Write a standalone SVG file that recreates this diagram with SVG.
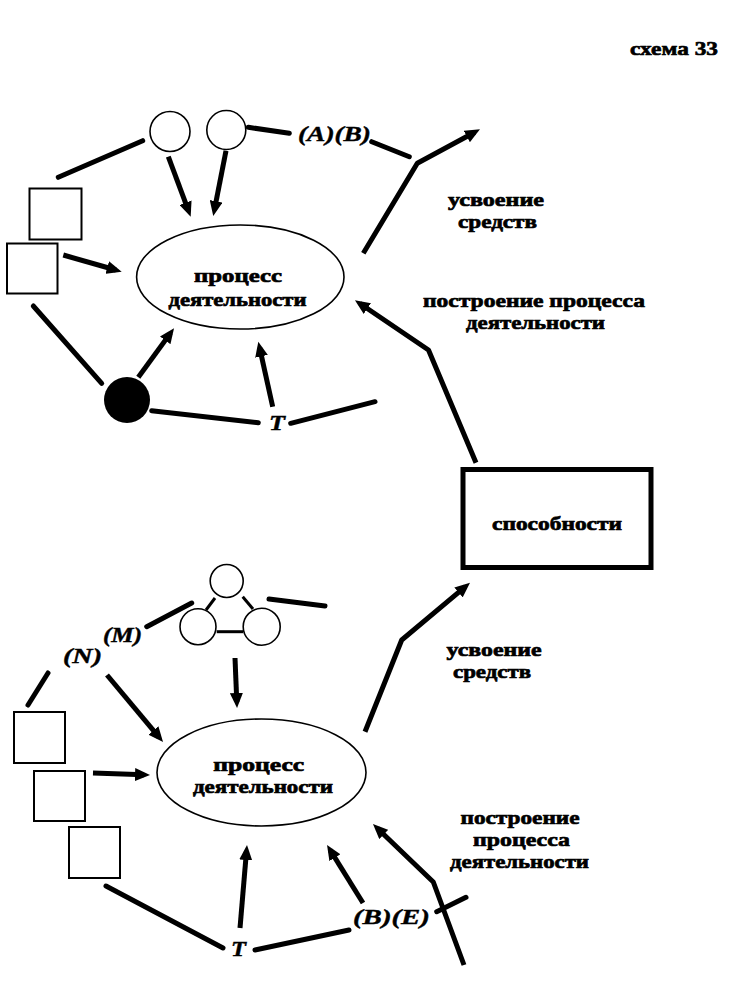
<svg xmlns="http://www.w3.org/2000/svg" width="742" height="1002" viewBox="0 0 742 1002">
<style>
.bg{fill:#fff}
.ln{stroke:#000;stroke-width:5;fill:none;stroke-linecap:round;stroke-linejoin:round}
.ar{stroke:#000;stroke-width:5;fill:none;stroke-linecap:butt;stroke-linejoin:round;marker-end:url(#ah)}
.thin{stroke:#000;stroke-width:3;fill:none}
.sh{fill:#fff;stroke:#000;stroke-width:2}
.el{fill:#fff;stroke:#000;stroke-width:1.6}
.t{font-family:"Liberation Serif","Times New Roman",serif;font-weight:bold;font-size:19.5px;fill:#000;stroke:#000;stroke-width:0.7;text-anchor:middle}
.i{font-family:"Liberation Serif","Times New Roman",serif;font-weight:bold;font-style:italic;font-size:21px;fill:#000;stroke:#000;stroke-width:0.4}
</style>
<defs>
<marker id="ah" markerUnits="userSpaceOnUse" markerWidth="16" markerHeight="13" refX="9" refY="6.5" orient="auto">
<path d="M0,0 L15,6.5 L0,13 z" fill="#000"/>
</marker>
</defs>
<rect class="bg" x="0" y="0" width="742" height="1002"/>
<text class="t" x="674" y="55" textLength="88" lengthAdjust="spacingAndGlyphs">схема 33</text>

<g id="connectors">
<!-- top section -->
<line class="ln" x1="58.3" y1="177.3" x2="142.7" y2="140.7"/>
<line class="ln" x1="248.3" y1="127.3" x2="289.3" y2="133.3"/>
<line class="ln" x1="371.7" y1="141.7" x2="409.3" y2="156.7"/>
<line class="ln" x1="33.3" y1="306" x2="101.7" y2="383.3"/>
<line class="ln" x1="151.7" y1="410.7" x2="258.3" y2="422.7"/>
<line class="ln" x1="290.7" y1="423.3" x2="375" y2="401.7"/>
<line class="ar" x1="168.3" y1="156.7" x2="188.6" y2="211.1"/>
<line class="ar" x1="226" y1="150.7" x2="214.4" y2="210.1"/>
<line class="ar" x1="63.3" y1="255" x2="115.9" y2="270"/>
<line class="ar" x1="138.3" y1="377.3" x2="170.5" y2="333.1"/>
<line class="ar" x1="272.7" y1="406.7" x2="259.6" y2="347.6"/>
<polyline class="ar" points="363.3,253.3 417.3,163.3 474.7,132.2"/>
<polyline class="ar" points="476,462.7 428.5,350 359.9,303.5"/>
<!-- bottom section -->
<line class="ln" x1="191.7" y1="603" x2="146.7" y2="626.7"/>
<line class="ln" x1="269" y1="599" x2="325" y2="606"/>
<line class="ln" x1="48" y1="673" x2="28" y2="705"/>
<line class="ln" x1="106" y1="886" x2="223" y2="948"/>
<line class="ln" x1="255" y1="950" x2="349" y2="930"/>
<line class="ln" x1="436.7" y1="911.7" x2="466" y2="897.3"/>
<line class="ar" x1="107" y1="675" x2="159.2" y2="737.4"/>
<line class="ar" x1="235" y1="658" x2="236.8" y2="702"/>
<line class="ar" x1="93" y1="773" x2="144" y2="774.8"/>
<line class="ar" x1="240" y1="928" x2="246.5" y2="851"/>
<line class="ar" x1="363" y1="903" x2="330.2" y2="850.1"/>
<polyline class="ar" points="464,965 433.3,882 377.3,828.2"/>
<polyline class="ar" points="365,731.7 401.7,640 465.4,586.6"/>
</g>

<!-- top section nodes -->
<g id="circle-top-1"><circle class="el" cx="170" cy="131.5" r="20"/></g>
<g id="circle-top-2"><circle class="el" cx="226.3" cy="130" r="19.5"/></g>
<g id="label-AB"><text class="i" x="298" y="141" textLength="73" lengthAdjust="spacingAndGlyphs">(A)(B)</text></g>
<g id="square-top-1"><rect class="sh" x="29.5" y="188.5" width="52" height="51"/></g>
<g id="square-top-2"><rect class="sh" x="7" y="243.5" width="50.5" height="50"/></g>
<g id="ellipse-top">
<ellipse class="el" cx="240.3" cy="277" rx="103.7" ry="52"/>
<text class="t" x="238" y="282" textLength="88" lengthAdjust="spacingAndGlyphs">процесс</text>
<text class="t" x="237.5" y="306" textLength="138" lengthAdjust="spacingAndGlyphs">деятельности</text>
</g>
<g id="black-circle"><circle cx="127" cy="400" r="23" fill="#000"/></g>
<g id="label-T-top"><text class="i" x="269" y="430" textLength="16" lengthAdjust="spacingAndGlyphs">T</text></g>
<g id="label-usvoenie-top">
<text class="t" x="496" y="206" textLength="96" lengthAdjust="spacingAndGlyphs">усвоение</text>
<text class="t" x="497.5" y="228" textLength="79" lengthAdjust="spacingAndGlyphs">средств</text>
</g>
<g id="label-postroenie-top">
<text class="t" x="534" y="307" textLength="222" lengthAdjust="spacingAndGlyphs">построение процесса</text>
<text class="t" x="535.5" y="329" textLength="139" lengthAdjust="spacingAndGlyphs">деятельности</text>
</g>

<g id="box-sposobnosti">
<rect x="463" y="469.5" width="188" height="98" fill="#fff" stroke="#000" stroke-width="5"/>
<text class="t" x="557" y="530" textLength="130" lengthAdjust="spacingAndGlyphs">способности</text>
</g>

<!-- bottom section nodes -->
<g id="triangle-circles">
<line class="thin" x1="215" y1="598" x2="206" y2="610"/>
<line class="thin" x1="242.7" y1="596.7" x2="253" y2="609"/>
<line class="thin" x1="216.7" y1="631.7" x2="243" y2="631.7"/>
<circle class="el" cx="226.7" cy="581" r="16.5"/>
<circle class="el" cx="198" cy="626.7" r="18"/>
<circle class="el" cx="261.7" cy="626.7" r="18.5"/>
</g>
<g id="label-M"><text class="i" x="103" y="642" textLength="39" lengthAdjust="spacingAndGlyphs">(M)</text></g>
<g id="label-N"><text class="i" x="63" y="663" textLength="39" lengthAdjust="spacingAndGlyphs">(N)</text></g>
<g id="square-bot-1"><rect class="sh" x="14" y="712" width="51" height="51"/></g>
<g id="square-bot-2"><rect class="sh" x="34" y="771" width="51" height="50"/></g>
<g id="square-bot-3"><rect class="sh" x="69" y="827" width="51" height="51"/></g>
<g id="ellipse-bot">
<ellipse class="el" cx="261.5" cy="772.5" rx="104.5" ry="53.5"/>
<text class="t" x="258.7" y="771" textLength="91" lengthAdjust="spacingAndGlyphs">процесс</text>
<text class="t" x="263" y="793" textLength="140" lengthAdjust="spacingAndGlyphs">деятельности</text>
</g>
<g id="label-T-bot"><text class="i" x="231" y="956" textLength="15" lengthAdjust="spacingAndGlyphs">T</text></g>
<g id="label-BE"><text class="i" x="353" y="924" textLength="77" lengthAdjust="spacingAndGlyphs">(B)(E)</text></g>
<g id="label-usvoenie-bot">
<text class="t" x="494" y="656" textLength="95" lengthAdjust="spacingAndGlyphs">усвоение</text>
<text class="t" x="492" y="678" textLength="78" lengthAdjust="spacingAndGlyphs">средств</text>
</g>
<g id="label-postroenie-bot">
<text class="t" x="520" y="824" textLength="119" lengthAdjust="spacingAndGlyphs">построение</text>
<text class="t" x="521.5" y="846" textLength="97" lengthAdjust="spacingAndGlyphs">процесса</text>
<text class="t" x="519.5" y="868" textLength="139" lengthAdjust="spacingAndGlyphs">деятельности</text>
</g>
</svg>
